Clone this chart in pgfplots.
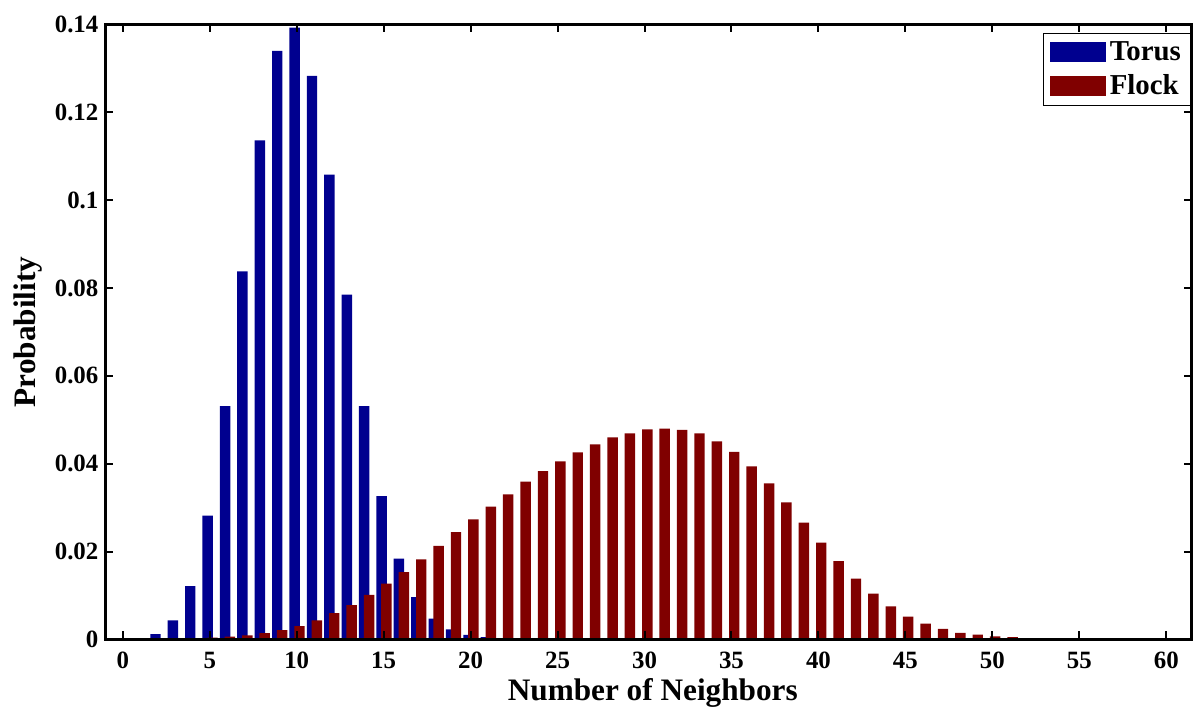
\documentclass[border=0pt]{standalone}
\usepackage{fontspec}
\setmainfont{Liberation Serif}
\usepackage{pgfplots}
\pgfplotsset{compat=1.18}
\definecolor{torus}{rgb}{0,0,0.5625}
\definecolor{flock}{rgb}{0.5,0,0}
\pgfplotsset{
  boxlegend/.style={legend image code/.code={\fill[##1] (0bp,-5bp) rectangle (28bp,5bp);}},
}
\begin{document}
\begin{tikzpicture}
\begin{axis}[
  scale only axis, width=543.6bp, height=307.75bp,
  xmin=-1, xmax=61.45, ymin=0, ymax=0.14,
  xtick={0,5,...,60},
  ytick={0,0.02,0.04,0.06,0.08,0.1,0.12,0.14},
  yticklabels={0,0.02,0.04,0.06,0.08,0.1,0.12,0.14},
  tick align=inside, tick pos=both,
  major tick length=4bp,
  every tick/.style={black, line width=1bp},
  axis line style={line width=1.5bp},
  /pgf/number format/assume math mode=true,
  tick label style={font=\bfseries\fontsize{12.5}{14}\selectfont},
  xticklabel style={yshift=-3bp},
  label style={font=\bfseries\fontsize{15.7}{18}\selectfont},
  xlabel={Number of Neighbors},
  ylabel={Probability},
  xlabel style={at={(axis description cs:0.504,-0.087)}, anchor=center},
  ylabel style={at={(axis description cs:-0.0713,0.5)}, anchor=center},
  axis on top,
  legend cell align=left,
  legend style={at={(1,1)}, anchor=north east, yshift=-4.25bp,
    draw=black, line width=0.6bp,
    font=\bfseries\fontsize{14.5}{16}\selectfont,
    inner xsep=3bp, inner ysep=2bp, row sep=1.5bp},
  extra description/.code={
    \path (axis description cs:0,1) ++(-52.75bp,12.25bp);
    \path (axis description cs:0,0) ++(0pt,-33.5bp);
  },
]
\addplot[ybar, bar width=0.6, bar shift=-0.12, fill=torus, draw=none, boxlegend] coordinates {
(0,0.0002) (1,0.0002) (2,0.0012) (3,0.0043) (4,0.0121) (5,0.0282)
(6,0.0531) (7,0.0838) (8,0.1136) (9,0.1340) (10,0.1393) (11,0.1283)
(12,0.1058) (13,0.0785) (14,0.0531) (15,0.0326) (16,0.0184) (17,0.0096)
(18,0.0047) (19,0.0023) (20,0.0010) (21,0.0005) (22,0.0002) (23,0.0001) (24,0.0001)
};
\addlegendentry{Torus}
\addplot[ybar, bar width=0.6, bar shift=0.16, fill=flock, draw=none, boxlegend] coordinates {
(0,0.0001) (1,0.0001) (2,0.0002) (3,0.0002) (4,0.0003) (5,0.0004)
(6,0.0006) (7,0.0009) (8,0.0014) (9,0.0021) (10,0.0030) (11,0.0043)
(12,0.0060) (13,0.0078) (14,0.0101) (15,0.0127) (16,0.0153) (17,0.0182)
(18,0.0213) (19,0.0244) (20,0.0273) (21,0.0302) (22,0.0330) (23,0.0359)
(24,0.0383) (25,0.0405) (26,0.0426) (27,0.0444) (28,0.0460) (29,0.0469)
(30,0.0478) (31,0.0480) (32,0.0477) (33,0.0469) (34,0.0451) (35,0.0427)
(36,0.0394) (37,0.0355) (38,0.0312) (39,0.0266) (40,0.0220) (41,0.0178)
(42,0.0138) (43,0.0104) (44,0.0075) (45,0.0052) (46,0.0036) (47,0.0024)
(48,0.0015) (49,0.0011) (50,0.0007) (51,0.0005) (52,0.0003) (53,0.0002)
(54,0.0002) (55,0.0002) (56,0.0002) (57,0.0002) (58,0.0002) (59,0.0002)
(60,0.0002) (61,0.0002)
};
\addlegendentry{Flock}
\end{axis}
\end{tikzpicture}
\end{document}
